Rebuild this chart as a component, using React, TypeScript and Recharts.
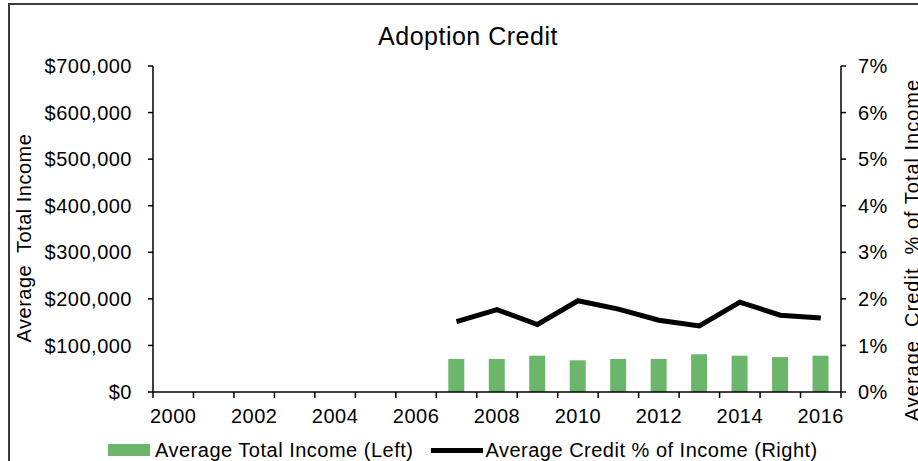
import React from 'react';
import { ComposedChart, Bar, Line, XAxis, YAxis, Legend } from 'recharts';

const years = [2000, 2001, 2002, 2003, 2004, 2005, 2006, 2007, 2008, 2009, 2010, 2011, 2012, 2013, 2014, 2015, 2016];
const avgIncome = [null, null, null, null, null, null, null, 71000, 71000, 78000, 68000, 71000, 71000, 81000, 78000, 75000, 78000];
const creditPct = [null, null, null, null, null, null, null, 1.51, 1.77, 1.45, 1.96, 1.78, 1.54, 1.42, 1.93, 1.65, 1.59];
const leftTicks = [0, 100000, 200000, 300000, 400000, 500000, 600000, 700000];
const rightTicks = [0, 1, 2, 3, 4, 5, 6, 7];

const GREEN = '#6bb66b';
const FONT = '"Liberation Sans", Arial, sans-serif';

const data = years.map((year, i) => ({ year, income: avgIncome[i], credit: creditPct[i] }));

const money = (v: number) => '$' + v.toLocaleString('en-US');

// excel-style ticks: marks on the band edges, label every other year
const XTick = (props: any) => {
    const { x, y, payload, index } = props;
    const half = payload?.offset ?? 20.24;
    const isLast = index === years.length - 1;
    const label = Number(payload.value) % 2 === 0;
    return (
        <g>
            <line x1={x - half} x2={x - half} y1={y} y2={y + 6} stroke="#000" strokeWidth={1.5} />
            {isLast && <line x1={x + half} x2={x + half} y1={y} y2={y + 6} stroke="#000" strokeWidth={1.5} />}
            {label && (
                <text x={x} y={y + 31} textAnchor="middle" fill="#000" fontSize={20}>
                    {payload.value}
                </text>
            )}
        </g>
    );
};

const LegendContent = () => (
    <div style={{ display: 'flex', alignItems: 'center', paddingLeft: 108, fontSize: 20, color: '#000', lineHeight: '24px' }}>
        <span style={{ width: 42, height: 12, background: GREEN, display: 'inline-block', marginRight: 5 }} />
        <span>Average Total Income (Left)</span>
        <span style={{ width: 52, height: 5, background: '#000', display: 'inline-block', marginLeft: 18, marginRight: 2 }} />
        <span>Average Credit % of Income (Right)</span>
    </div>
);

export default function App() {
    return (
        <div style={{ position: 'absolute', left: 0, top: 0, width: 918, height: 461, overflow: 'hidden', background: '#fff', fontFamily: FONT, letterSpacing: '0.5px' }}>
            <div style={{ position: 'absolute', left: 8, top: 3, width: 960, height: 500, border: '2px solid #3a3a3a', boxSizing: 'border-box' }} />
            <div style={{ position: 'absolute', left: 168, top: 24, width: 600, textAlign: 'center', fontSize: 25, lineHeight: '25px', color: '#000' }}>
                Adoption Credit
            </div>
            <div style={{ position: 'absolute', left: 24, top: 238, transform: 'translate(-50%, -50%) rotate(-90deg)', whiteSpace: 'pre', fontSize: 20, lineHeight: '20px', color: '#000' }}>
                Average  Total Income
            </div>
            <div style={{ position: 'absolute', left: 912, top: 250, transform: 'translate(-50%, -50%) rotate(-90deg)', whiteSpace: 'pre', fontSize: 20, lineHeight: '20px', letterSpacing: '1px', color: '#000' }}>
                Average  Credit  % of Total Income
            </div>
            <ComposedChart width={918} height={461} data={data} margin={{ top: 66, right: 0, bottom: 39, left: 0 }}>
                <XAxis
                    dataKey="year"
                    height={30}
                    interval={0}
                    tickLine={false}
                    tickSize={0}
                    tickMargin={0}
                    axisLine={{ stroke: '#000', strokeWidth: 1.5 }}
                    tick={<XTick />}
                />
                <YAxis
                    yAxisId="left"
                    width={153}
                    domain={[0, 700000]}
                    ticks={leftTicks}
                    tickFormatter={money}
                    tickSize={5}
                    tickMargin={16}
                    axisLine={{ stroke: '#000', strokeWidth: 1.5 }}
                    tickLine={{ stroke: '#000', strokeWidth: 1.5 }}
                    tick={{ fill: '#000', fontSize: 20 }}
                />
                <YAxis
                    yAxisId="right"
                    orientation="right"
                    width={77}
                    domain={[0, 7]}
                    ticks={rightTicks}
                    tickFormatter={(v: number) => `${v}%`}
                    tickSize={5}
                    tickMargin={12}
                    axisLine={{ stroke: '#000', strokeWidth: 1.5 }}
                    tickLine={{ stroke: '#000', strokeWidth: 1.5 }}
                    tick={{ fill: '#000', fontSize: 20, textAnchor: 'start' }}
                />
                <Legend
                    layout="horizontal"
                    verticalAlign="middle"
                    align="center"
                    wrapperStyle={{ top: 438, left: 0, width: 918, height: 24 }}
                    content={<LegendContent />}
                />
                <Bar yAxisId="left" dataKey="income" name="Average Total Income (Left)" fill={GREEN} barSize={16} isAnimationActive={false} />
                <Line yAxisId="right" dataKey="credit" name="Average Credit % of Income (Right)" stroke="#000" strokeWidth={5} dot={false} type="linear" isAnimationActive={false} />
            </ComposedChart>
        </div>
    );
}
